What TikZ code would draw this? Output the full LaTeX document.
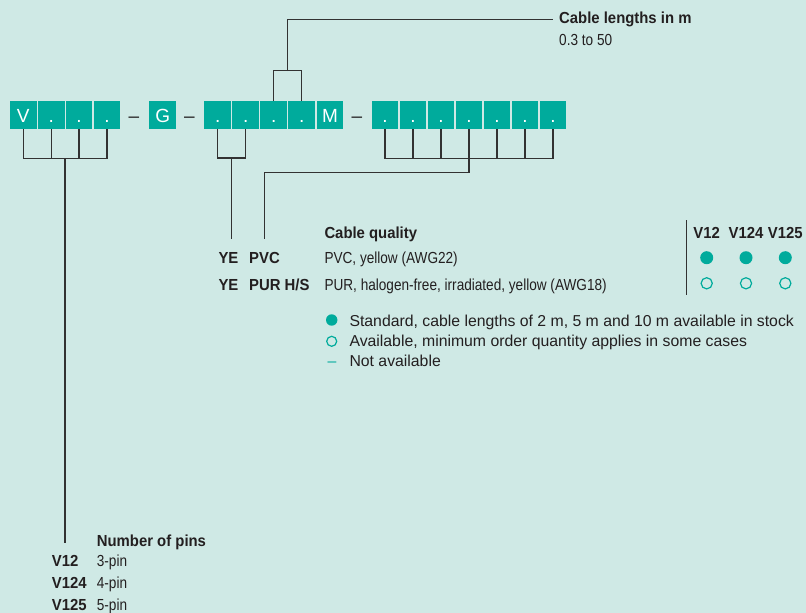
\documentclass[tikz,border=0pt]{standalone}
\usepackage{fontspec}
\setmainfont{Liberation Sans}
\newfontfamily\condfont[FakeStretch=0.85,BoldFeatures={FakeStretch=0.93}]{Liberation Sans}
\definecolor{bgmint}{RGB}{207,233,229}
\definecolor{teal1}{RGB}{0,171,156}
\definecolor{txt}{RGB}{35,31,32}
\definecolor{linegray}{RGB}{50,50,50}
\tikzset{
  conn/.style={draw=linegray, line width=1.3pt},
  cbox/.style={fill=teal1, minimum width=26.7pt, minimum height=28pt, inner sep=0pt,
    text=white, font=\fontsize{19}{22}\selectfont, text height=15.4pt, text depth=0pt},
  sep/.style={anchor=base west, inner sep=0pt, text=txt, font=\fontsize{19}{22}\selectfont},
  lbl/.style={anchor=base west, inner sep=0pt, text=txt, font=\condfont\fontsize{16}{19}\selectfont},
  lblb/.style={anchor=base west, inner sep=0pt, text=txt, font=\condfont\bfseries\fontsize{16}{19}\selectfont},
  hdr/.style={anchor=base, inner sep=0pt, text=txt, font=\condfont\bfseries\fontsize{16}{19}\selectfont},
  leg/.style={anchor=base west, inner sep=0pt, text=txt, font=\fontsize{15.8}{19}\selectfont},
  fdot/.style={fill=teal1, draw=none},
  odot/.style={draw=teal1, line width=1.2pt, fill=none},
}
\begin{document}
\begin{tikzpicture}[x=1pt,y=-1pt]
\useasboundingbox (0,0) rectangle (806,613);
\fill[bgmint] (0,0) rectangle (806,613);

% group 1
\node[cbox] (v1) at (23.3,115) {V};
\node[cbox] (v2) at (51.2,115) {.};
\node[cbox] (v3) at (79.1,115) {.};
\node[cbox] (v4) at (107,115) {.};
\node[sep] (d1) at (128.5,122.7) {–};
\node[cbox] (g1) at (162.7,115) {G};
\node[sep] (d2) at (184,122.7) {–};
% group 2
\node[cbox] (c1) at (217.7,115) {.};
\node[cbox] (c2) at (245.7,115) {.};
\node[cbox] (c3) at (273.7,115) {.};
\node[cbox] (c4) at (301.8,115) {.};
\node[cbox] (m1) at (330,115) {M};
\node[sep] (d3) at (351.3,122.7) {–};
% group 3
\foreach \i/\x in {1/385,2/413,3/441,4/469,5/497,6/525,7/553}
  \node[cbox] (r\i) at (\x,115) {.};

% cable lengths
\node[lblb] (cl) at (559,23.3) {Cable lengths in m};
\node[lbl] (clv) at (559,45.7) {0.3 to 50};
\coordinate (clj) at (287.3,71);
\coordinate (clend) at (552.7,19.3);
\draw[conn] (c3.north) -- ++(0,-30) -| (c4.north);
\draw[conn] (clj) |- (clend);

% pins connectors
\draw[conn] (v1.south) -- ++(0,29.3) -| (v4.south);
\draw[conn] (v2.south) -- ++(0,29.3);
\draw[conn] (v3.south) -- ++(0,29.3);
\coordinate (pinj) at (65,158.3);
\coordinate (pinend) at (65,543.3);
\draw[conn] (pinj) -- (pinend);

% cable quality connectors
\draw[conn] (c1.south) -- ++(0,28.7) -| (c2.south);
\coordinate (yej) at (231.7,157.7);
\coordinate (yeend) at (231.7,239);
\draw[conn] (yej) -- (yeend);
\draw[conn] (r1.south) -- ++(0,29.3) -| (r7.south);
\foreach \i in {2,3,5,6} \draw[conn] (r\i.south) -- ++(0,29.3);
\coordinate (qend) at (264.3,239);
\draw[conn] (r4.south) |- (264.3,172.7) -- (qend);

% cable quality table
\node[lblb] (cqh) at (324.3,238.5) {Cable quality};
\node[lblb] (ye1) at (218.3,263.3) {YE};
\node[lblb] (pvc) at (249,263.3) {PVC};
\node[lbl] (pvcd) at (324.3,263.3) {PVC, yellow (AWG22)};
\node[lblb] (ye2) at (218.3,290) {YE};
\node[lblb] (pur) at (249,290) {PUR H/S};
\node[lbl] (purd) at (324.3,290) {PUR, halogen-free, irradiated, yellow (AWG18)};

% availability table
\coordinate (vt) at (686.8,220);
\coordinate (vb) at (686.8,295);
\draw[conn] (vt) -- (vb);
\node[hdr] (h1) at (706.7,238.3) {V12};
\node[hdr] (h2) at (746,238.3) {V124};
\node[hdr] (h3) at (785.3,238.3) {V125};
\foreach \x in {706.7,746,785.3} {
  \fill[fdot] (\x,257.7) circle (6.5);
  \draw[odot] (\x,283.3) circle (5.6);
}

% legend
\fill[fdot] (331.7,320) circle (5.7);
\node[leg] (l1) at (349.3,326) {Standard, cable lengths of 2 m, 5 m and 10 m available in stock};
\draw[odot] (331.7,341.3) circle (5);
\node[leg] (l2) at (349.3,346.7) {Available, minimum order quantity applies in some cases};
\node[leg, text=teal1] (l3d) at (327.5,366.7) {–};
\node[leg] (l3) at (349.3,366.7) {Not available};

% pins
\node[lblb] (nph) at (96.7,546.7) {Number of pins};
\node[lblb] (p1) at (51.7,566.7) {V12};
\node[lbl] (p1d) at (96.7,566.7) {3-pin};
\node[lblb] (p2) at (51.7,588.3) {V124};
\node[lbl] (p2d) at (96.7,588.3) {4-pin};
\node[lblb] (p3) at (51.7,610) {V125};
\node[lbl] (p3d) at (96.7,610) {5-pin};
\end{tikzpicture}
\end{document}
